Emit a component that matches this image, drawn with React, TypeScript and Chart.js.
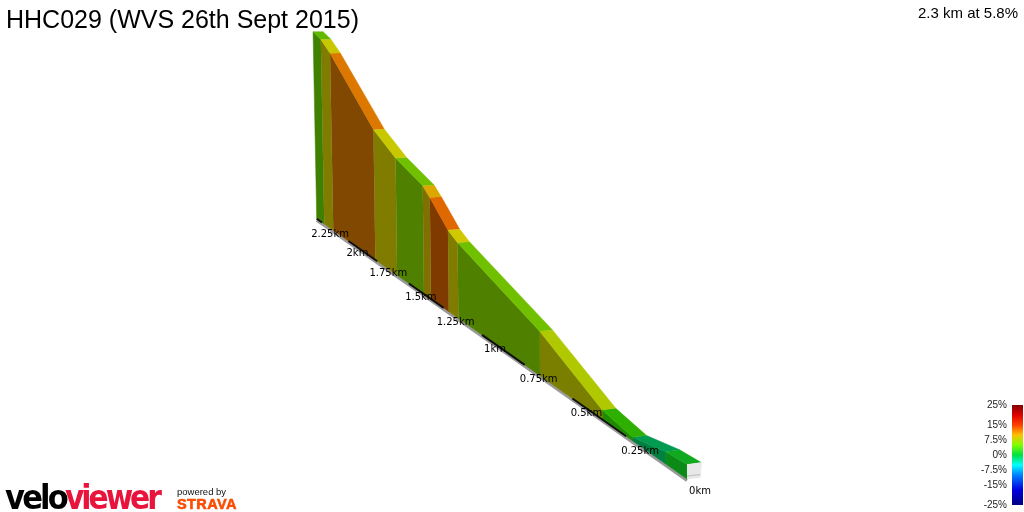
import React, { useEffect, useRef } from "react";
import { Chart, registerables } from "chart.js";

Chart.register(...registerables);

const titleText = "HHC029 (WVS 26th Sept 2015)";
const summaryText = "2.3 km at 5.8%";

// Route profile
const breakKm = [0, 0.085, 0.221, 0.357, 0.667, 1.151, 1.215, 1.338, 1.388, 1.59, 1.766, 2.141, 2.228, 2.303];
const elevationM = [6.4, 5.5, 1.7, 4.6, 23.2, 43.9, 48, 61.2, 66, 74.2, 85.4, 123.8, 131, 134.3];
const roadColours = ["#10A81E", "#009A50", "#2EB000", "#B0C800", "#70C000", "#D0C800", "#E06800", "#DCA800", "#70C000", "#C8C800", "#DC7800", "#C8C800", "#60B800"];
const wallColours = ["#0C8A18", "#007F40", "#208A00", "#7A7F00", "#4F8000", "#807C00", "#7F3A00", "#807000", "#4F8000", "#807C00", "#804800", "#807C00", "#408000"];

const kmTicks = [0, 0.25, 0.5, 0.75, 1, 1.25, 1.5, 1.75, 2, 2.25];
const kmLabels = ["0km", "0.25km", "0.5km", "0.75km", "1km", "1.25km", "1.5km", "1.75km", "2km", "2.25km"];
const blackRanges = [[0.25, 0.5], [0.75, 1], [1.25, 1.5], [1.75, 2], [2.25, 2.303]];

const legendLabels = ["25%", "15%", "7.5%", "0%", "-7.5%", "-15%", "-25%"];
const legendRows = [405, 425, 440, 455, 470, 485, 505];
const legendStops = [0, 0.1, 0.2, 0.3, 0.4, 0.5, 0.6, 0.7, 0.85, 1];
const legendColours = ["#800000", "#E00000", "#FF4000", "#FFC000", "#80FF00", "#00E040", "#00FFFF", "#0080FF", "#0000E0", "#000080"];

const labelShiftX = [13, 14, 14, 14, 13, 12, 12, 11, 9, 8];
const labelShiftY = [15, 17.5, 18, 17.5, 17, 17, 17, 15, 15, 15];

const persp = 0.2674;
const baseX = (d: number) => (687 - 76.1 * d) / (1 + persp * d);
const baseY = (d: number) => 218.7 + 0.703 * (baseX(d) - 316.7);
const wallTop = (d: number, e: number) => {
  const h = (2.25 * e) / (1 + persp * d);
  return { x: baseX(d) - h * d * 0.0085, y: baseY(d) - h };
};
const roadEdge = (d: number, e: number) => {
  const p = wallTop(d, e);
  return { x: p.x + 14.4 / (1 + 0.19 * d), y: p.y - 2 * (1 - d / 2.3) };
};
const polygon = (data: { x: number; y: number }[], colour: any) => ({
  data,
  showLine: true,
  fill: "shape",
  backgroundColor: colour,
  borderColor: typeof colour === "string" ? colour : "rgba(0,0,0,0)",
  borderWidth: 0.5,
  pointRadius: 0,
  tension: 0,
});
const stroke = (data: { x: number; y: number }[], colour: string, width: number) => ({
  data,
  showLine: true,
  fill: false,
  borderColor: colour,
  borderWidth: width,
  pointRadius: 0,
  tension: 0,
});

const textPlugin = {
  id: "pageText",
  afterDatasetsDraw(chart: any) {
    const { ctx, scales } = chart;
    const put = (t: string, x: number, y: number, font: string, colour: string, align: CanvasTextAlign = "left", spacing = "0px", outline = 0) => {
      ctx.save();
      ctx.font = font;
      ctx.fillStyle = colour;
      ctx.textAlign = align;
      ctx.textBaseline = "alphabetic";
      (ctx as any).letterSpacing = spacing;
      if (outline > 0) {
        ctx.strokeStyle = colour;
        ctx.lineWidth = outline;
        ctx.lineJoin = "round";
        ctx.strokeText(t, x, y);
      }
      ctx.fillText(t, x, y);
      ctx.restore();
    };
    const sans = '"Liberation Sans"';
    put(titleText, 6, 28, `25px ${sans}`, "#000");
    put(summaryText, 1018, 18, `15px ${sans}`, "#000", "right");
    kmTicks.forEach((d, i) => {
      put(kmLabels[i], scales.x.getPixelForValue(baseX(d)) + labelShiftX[i], scales.y.getPixelForValue(baseY(d)) + labelShiftY[i], '10px "DejaVu Sans"', "#000", "center");
    });
    legendLabels.forEach((t, i) => {
      put(t, 1007, scales.y.getPixelForValue(legendRows[i]) + 3, `10px ${sans}`, "#222", "right");
    });
    const logo = '"DejaVu Sans Condensed", "DejaVu Sans"';
    put("velo", 5, 509, `bold 34px ${logo}`, "#000", "left", "-2.8px");
    put("viewer", 65, 509, `bold 33px ${logo}`, "#E8143C", "left", "-3px");
    put("powered by", 177, 495, `9.5px ${sans}`, "#111");
    put("STRAVA", 177, 509, `bold 14.5px ${sans}`, "#FC4C02", "left", "0.4px", 0.6);
  },
};

export default function App() {
  const ref = useRef<HTMLCanvasElement>(null);
  useEffect(() => {
    document.body.style.margin = "0";
    const canvas = ref.current!;
    const ctx = canvas.getContext("2d")!;
    const gradient = ctx.createLinearGradient(0, legendRows[0], 0, legendRows[legendRows.length - 1]);
    legendStops.forEach((s, i) => gradient.addColorStop(s, legendColours[i]));

    const layers: any[] = [];
    const last = breakKm.length - 1;
    layers.push(stroke(breakKm.map((d) => ({ x: baseX(d), y: baseY(d) + 1.5 })), "#9A9A9A", 3));
    for (let i = 0; i < last; i++) {
      const a = breakKm[i], b = breakKm[i + 1];
      layers.push(polygon([wallTop(a, elevationM[i]), wallTop(b, elevationM[i + 1]), { x: baseX(b), y: baseY(b) }, { x: baseX(a), y: baseY(a) }], wallColours[i]));
    }
    blackRanges.forEach(([a, b]) => {
      layers.push(stroke([{ x: baseX(a), y: baseY(a) }, { x: baseX(b), y: baseY(b) }], "#111", 2));
    });
    for (let i = 0; i < last; i++) {
      const a = breakKm[i], b = breakKm[i + 1], ea = elevationM[i], eb = elevationM[i + 1];
      layers.push(polygon([wallTop(a, ea), wallTop(b, eb), roadEdge(b, eb), roadEdge(a, ea)], roadColours[i]));
    }
    const p0 = wallTop(0, elevationM[0]);
    const p1 = roadEdge(0, elevationM[0]);
    layers.push(polygon([p0, p1, { x: p1.x - 1, y: baseY(0) - 1.5 }, { x: baseX(0), y: baseY(0) }], "#E8E8E8"));
    layers.push(stroke([{ x: baseX(0), y: baseY(0) - 3 }, { x: p1.x - 1, y: baseY(0) - 4.5 }], "#BDBDBD", 1));
    const [lx0, lx1] = [1012, 1023];
    layers.push(polygon([
      { x: lx0, y: legendRows[0] },
      { x: lx1, y: legendRows[0] },
      { x: lx1, y: legendRows[legendRows.length - 1] },
      { x: lx0, y: legendRows[legendRows.length - 1] },
    ], gradient));

    const chart = new Chart(canvas, {
      type: "scatter",
      data: { datasets: layers.reverse() },
      options: {
        animation: false,
        responsive: false,
        devicePixelRatio: 1,
        layout: { padding: 0 },
        plugins: { legend: { display: false }, tooltip: { enabled: false }, title: { display: false } },
        scales: {
          x: { type: "linear", display: false, min: 0, max: 1024 },
          y: { type: "linear", display: false, min: 0, max: 512, reverse: true },
        },
      },
      plugins: [textPlugin],
    } as any);
    return () => chart.destroy();
  }, []);
  return <canvas ref={ref} width={1024} height={512} style={{ position: "fixed", left: 0, top: 0, display: "block" }} />;
}
